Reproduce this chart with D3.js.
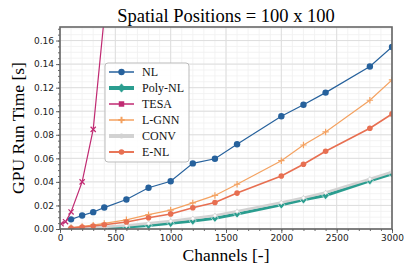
<!DOCTYPE html>
<html>
<head>
<meta charset="utf-8">
<script src="https://cdn.jsdelivr.net/npm/d3@7"></script>
<style>
  body { margin: 0; background: #fff; }
  svg { display: block; }
</style>
</head>
<body>
<svg id="chart" width="405" height="276"></svg>
<script>
// data
var channels = [100, 200, 300, 400, 600, 800, 1000, 1200, 1400, 1600, 2000, 2200, 2400, 2800, 3000];
var nlTime    = [0.0082, 0.0115, 0.0143, 0.0182, 0.025, 0.035, 0.0405, 0.0557, 0.0596, 0.072, 0.0957, 0.1055, 0.1158, 0.138, 0.1545];
var polyTime  = [0.0003, 0.0005, 0.0007, 0.0009, 0.0016, 0.003, 0.0048, 0.0068, 0.0092, 0.0128, 0.0205, 0.0248, 0.0285, 0.041, 0.0468];
var lgnnTime  = [0.0012, 0.0022, 0.0033, 0.0048, 0.0078, 0.0122, 0.016, 0.0222, 0.0285, 0.038, 0.058, 0.0713, 0.0824, 0.1093, 0.1266];
var convTime  = [0.0005, 0.0008, 0.0012, 0.0018, 0.003, 0.0048, 0.0068, 0.009, 0.0115, 0.015, 0.0225, 0.0265, 0.031, 0.0425, 0.0485];
var enlTime   = [0.0008, 0.0017, 0.0025, 0.0036, 0.006, 0.0095, 0.0128, 0.018, 0.0225, 0.0305, 0.045, 0.055, 0.066, 0.0855, 0.0977];
var tesaChannels = [10, 50, 100, 200, 300, 400];
var tesaTime     = [0.0045, 0.0062, 0.0145, 0.040, 0.0846, 0.18];

var xTicks = [0, 500, 1000, 1500, 2000, 2500, 3000];
var yTicks = [0, 0.02, 0.04, 0.06, 0.08, 0.10, 0.12, 0.14, 0.16];

var series = [
  { name: "NL",      xs: channels,     ys: nlTime,   color: "#26619c", width: 1.2, marker: "circle",  size: 3.2 },
  { name: "Poly-NL", xs: channels,     ys: polyTime, color: "#2a9d8f", width: 3,   marker: "diamond", size: 3.5 },
  { name: "TESA",    xs: tesaChannels, ys: tesaTime, color: "#c02a72", width: 1.2, marker: "x",       size: 2.6 },
  { name: "L-GNN",   xs: channels,     ys: lgnnTime, color: "#f4a261", width: 1.2, marker: "plus",    size: 3.2 },
  { name: "CONV",    xs: channels,     ys: convTime, color: "#d2d2d2", width: 2.6, marker: "plus",    size: 2.5 },
  { name: "E-NL",    xs: channels,     ys: enlTime,  color: "#e76f51", width: 1.6, marker: "circle",  size: 2.8 }
];

var svg = d3.select("#chart");
var margin = { top: 27, right: 13, bottom: 47, left: 60 };
var innerWidth = 405 - margin.left - margin.right;
var innerHeight = 276 - margin.top - margin.bottom;

var x = d3.scaleLinear().domain([0, 3000]).range([0, innerWidth]);
var y = d3.scaleLinear().domain([0, 0.1715]).range([innerHeight, 0]);

var g = svg.append("g")
  .attr("transform", "translate(" + margin.left + "," + margin.top + ")");

g.append("clipPath").attr("id", "clip")
  .append("rect").attr("width", innerWidth).attr("height", innerHeight);

// grid, minor then major
var xMinor = d3.range(0, 3001, 100);
var yMinor = d3.range(0, 0.1716, 0.005);

g.append("g").selectAll("line").data(xMinor).enter().append("line")
  .attr("x1", function(d) { return x(d); }).attr("x2", function(d) { return x(d); })
  .attr("y1", 0).attr("y2", innerHeight)
  .attr("stroke", "#f0f0f0").attr("stroke-width", 0.8);
g.append("g").selectAll("line").data(yMinor).enter().append("line")
  .attr("y1", function(d) { return y(d); }).attr("y2", function(d) { return y(d); })
  .attr("x1", 0).attr("x2", innerWidth)
  .attr("stroke", "#f0f0f0").attr("stroke-width", 0.8);

g.append("g").selectAll("line").data(xTicks).enter().append("line")
  .attr("x1", function(d) { return x(d); }).attr("x2", function(d) { return x(d); })
  .attr("y1", 0).attr("y2", innerHeight)
  .attr("stroke", "#dedede").attr("stroke-width", 1);
g.append("g").selectAll("line").data(yTicks).enter().append("line")
  .attr("y1", function(d) { return y(d); }).attr("y2", function(d) { return y(d); })
  .attr("x1", 0).attr("x2", innerWidth)
  .attr("stroke", "#dedede").attr("stroke-width", 1);

// lines
var plot = g.append("g").attr("clip-path", "url(#clip)");

function markerPath(type, s) {
  if (type === "circle") return d3.symbol().type(d3.symbolCircle).size(Math.PI * s * s)();
  if (type === "diamond") return "M0," + (-s * 1.2) + "L" + s + ",0L0," + (s * 1.2) + "L" + (-s) + ",0Z";
  if (type === "x") return "M" + (-s) + "," + (-s) + "L" + s + "," + s + "M" + (-s) + "," + s + "L" + s + "," + (-s);
  return "M" + (-s) + ",0L" + s + ",0M0," + (-s) + "L0," + s;
}

function drawMarker(sel, d) {
  var filled = d.marker === "circle" || d.marker === "diamond";
  sel.attr("d", markerPath(d.marker, d.size))
    .attr("fill", filled ? d.color : "none")
    .attr("stroke", d.marker === "diamond" ? "#fff" : d.color)
    .attr("stroke-width", d.marker === "diamond" ? 0.6 : (filled ? 0 : 1.2));
}

var line = d3.line()
  .x(function(p) { return x(p[0]); })
  .y(function(p) { return y(p[1]); });

series.forEach(function(s) {
  var pts = d3.zip(s.xs, s.ys);
  plot.append("path")
    .datum(pts)
    .attr("d", line)
    .attr("fill", "none")
    .attr("stroke", s.color)
    .attr("stroke-width", s.width);
  plot.append("g").selectAll("path").data(pts).enter().append("path")
    .attr("transform", function(p) { return "translate(" + x(p[0]) + "," + y(p[1]) + ")"; })
    .each(function() { drawMarker(d3.select(this), s); });
  if (s.name === "CONV") {
    plot.selectAll(".convdot").data(pts).enter().append("circle")
      .attr("class", "convdot")
      .attr("cx", function(p) { return x(p[0]); })
      .attr("cy", function(p) { return y(p[1]); })
      .attr("r", 1.6)
      .attr("fill", "#fff")
      .attr("stroke", "#d8d8d8")
      .attr("stroke-width", 0.6);
  }
});

// axes
g.append("g")
  .attr("transform", "translate(0," + innerHeight + ")")
  .call(d3.axisBottom(x).tickValues(xTicks).tickFormat(d3.format("d")).tickSize(4).tickPadding(2));
var xMinorAxis = g.append("g")
  .attr("transform", "translate(0," + innerHeight + ")")
  .call(d3.axisBottom(x).tickValues(xMinor).tickSize(2));
xMinorAxis.selectAll("text").remove();
xMinorAxis.select(".domain").remove();

g.append("g")
  .call(d3.axisLeft(y).tickValues(yTicks).tickFormat(d3.format(".2f")).tickSize(4).tickPadding(2));
var yMinorAxis = g.append("g")
  .call(d3.axisLeft(y).tickValues(yMinor).tickSize(2));
yMinorAxis.selectAll("text").remove();
yMinorAxis.select(".domain").remove();

g.selectAll(".tick text")
  .style("font-family", "'DejaVu Sans', sans-serif")
  .style("font-size", "9px")
  .attr("fill", "#222");
g.selectAll(".tick line").attr("stroke", "#444").attr("stroke-width", 0.8);
g.selectAll(".domain").remove();

// frame
g.append("rect")
  .attr("width", innerWidth).attr("height", innerHeight)
  .attr("fill", "none")
  .attr("stroke", "#666")
  .attr("stroke-width", 1.6);

// titles
svg.append("text")
  .attr("x", margin.left + innerWidth / 2)
  .attr("y", 22)
  .attr("text-anchor", "middle")
  .style("font-family", "'Liberation Serif', serif")
  .style("font-size", "18.5px")
  .text("Spatial Positions = 100 x 100");

svg.append("text")
  .attr("x", margin.left + innerWidth / 2)
  .attr("y", 261)
  .attr("text-anchor", "middle")
  .style("font-family", "'Liberation Serif', serif")
  .style("font-size", "17.5px")
  .text("Channels [-]");

svg.append("text")
  .attr("transform", "translate(24," + (margin.top + innerHeight / 2) + ") rotate(-90)")
  .attr("text-anchor", "middle")
  .style("font-family", "'Liberation Serif', serif")
  .style("font-size", "17.5px")
  .text("GPU Run Time [s]");

// legend
var legend = svg.append("g").attr("transform", "translate(105,63)");
legend.append("rect")
  .attr("width", 84).attr("height", 99)
  .attr("rx", 3)
  .attr("fill", "#fff").attr("fill-opacity", 0.85)
  .attr("stroke", "#bbb").attr("stroke-width", 1);

var items = legend.selectAll(".item").data(series).enter().append("g")
  .attr("class", "item")
  .attr("transform", function(d, i) { return "translate(0," + (9 + i * 16) + ")"; });

items.append("line")
  .attr("x1", 4).attr("x2", 29)
  .attr("stroke", function(d) { return d.color; })
  .attr("stroke-width", function(d) { return d.width > 2 ? 4 : d.width + 0.3; });

items.append("path")
  .attr("transform", "translate(16.5,0)")
  .each(function(d) {
    var sel = d3.select(this);
    if (d.marker === "x") {
      sel.attr("d", d3.symbol().type(d3.symbolSquare).size(30)()).attr("fill", d.color);
    } else {
      drawMarker(sel, d);
      if (d.marker === "diamond") sel.attr("stroke", d.color);
      if (d.marker === "plus") sel.attr("stroke-width", 2);
    }
  });

items.append("text")
  .attr("x", 37)
  .attr("dy", "0.35em")
  .style("font-family", "'Liberation Serif', serif")
  .style("font-size", "12px")
  .attr("fill", "#111")
  .text(function(d) { return d.name; });
</script>
</body>
</html>
